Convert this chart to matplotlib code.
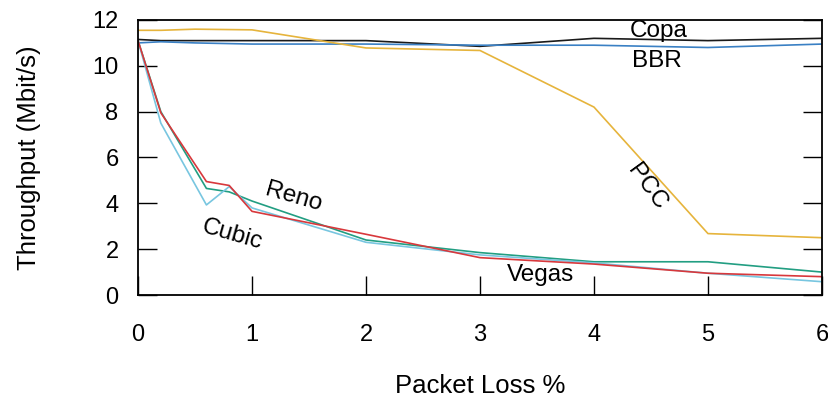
import matplotlib.pyplot as plt

# packet loss (%) and throughput (Mbit/s)
loss_fine = [0, 0.2, 0.6, 0.8, 1, 2, 3, 4, 5, 6]
loss = [0, 0.2, 0.5, 1, 2, 3, 4, 5, 6]

copa = [11.15, 11.1, 11.1, 11.1, 11.1, 10.85, 11.2, 11.1, 11.2]
bbr = [11.0, 11.05, 11.0, 10.95, 10.95, 10.9, 10.9, 10.8, 10.95]
pcc = [11.55, 11.55, 11.6, 11.57, 10.78, 10.67, 8.2, 2.68, 2.5]

reno = [11.1, 7.95, 4.95, 4.78, 3.65, 2.65, 1.63, 1.35, 0.95, 0.8]
vegas = [11.1, 8.0, 4.65, 4.5, 4.1, 2.4, 1.85, 1.45, 1.45, 1.0]
cubic = [11.1, 7.5, 3.93, 4.73, 3.8, 2.3, 1.75, 1.4, 0.95, 0.58]

x_ticks = [0, 1, 2, 3, 4, 5, 6]
y_ticks = [0, 2, 4, 6, 8, 10, 12]

plt.rcParams['font.family'] = ['Liberation Sans', 'DejaVu Sans']

fig = plt.figure(figsize=(8.29, 4.04), dpi=100)
ax = fig.add_axes([0.1665, 0.2698, 0.825, 0.6807])

lw = 1.2
ax.plot(loss, copa, color="#1a1a1a", lw=lw)
ax.plot(loss, bbr, color="#3a80c4", lw=lw)
ax.plot(loss, pcc, color="#e6b43c", lw=lw)
ax.plot(loss_fine, vegas, color="#229e82", lw=lw)
ax.plot(loss_fine, cubic, color="#78c6e0", lw=lw)
ax.plot(loss_fine, reno, color="#d8383c", lw=lw)

fs = 17.5
ax.text(4.57, 11.5, "Copa", fontsize=fs, ha="center", va="center")
ax.text(4.55, 10.2, "BBR", fontsize=fs, ha="center", va="center")
ax.text(4.46, 4.72, "PCC", fontsize=fs, ha="center", va="center", rotation=-54)
ax.text(1.36, 4.28, "Reno", fontsize=fs, ha="center", va="center", rotation=-16)
ax.text(0.83, 2.62, "Cubic", fontsize=fs, ha="center", va="center", rotation=-16)
ax.text(3.53, 0.87, "Vegas", fontsize=fs, ha="center", va="center")

ax.set_xlim(0, 6)
ax.set_ylim(0, 12)
ax.set_xticks(x_ticks)
ax.set_yticks(y_ticks)
ax.tick_params(axis="y", direction="in", length=14, width=1.0, right=True,
               labelsize=17, pad=14)
ax.tick_params(axis="x", direction="in", length=14, width=1.0,
               labelsize=17, pad=21)
for s in ax.spines.values():
    s.set_linewidth(1.3)

ax.set_xlabel("Packet Loss %", fontsize=18.5, labelpad=20)
ax.set_ylabel("Throughput (Mbit/s)", fontsize=18.5, labelpad=37)

fig.savefig("out.png", dpi=100)
